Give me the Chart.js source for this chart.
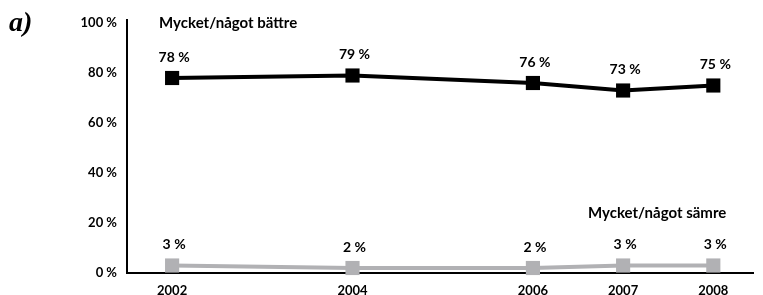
<!DOCTYPE html>
<html>
<head>
<meta charset="utf-8">
<script src="https://cdn.jsdelivr.net/npm/chart.js@4"></script>
<style>
  body { margin: 0; background: #fff; }
  #wrap { width: 763px; height: 295px; position: relative; }
</style>
</head>
<body>
<div id="wrap"><canvas id="chart"></canvas></div>
<script>
// Data
const years = [2002, 2004, 2006, 2007, 2008];
const betterValues = [78, 79, 76, 73, 75];
const worseValues = [3, 2, 2, 3, 3];
const yTicks = [0, 20, 40, 60, 80, 100];
const seriesNames = ["Mycket/något bättre", "Mycket/något sämre"];

const labelFont = "bold 14px Lato";
const gray = "#b1b1b4";

// value labels over each marker, series names and the "a)" tag
const annotations = {
  id: "annotations",
  afterDatasetsDraw(chart) {
    const ctx = chart.ctx;
    const x = chart.scales.x;
    const y = chart.scales.y;
    ctx.save();
    ctx.fillStyle = "#000";
    ctx.textAlign = "center";
    ctx.textBaseline = "middle";
    ctx.font = labelFont;
    chart.data.datasets.forEach((ds, i) => {
      chart.getDatasetMeta(i).data.forEach((pt, j) => {
        ctx.fillText(ds.data[j].y + " %", pt.x + 2, pt.y - 21);
      });
    });

    ctx.font = "bold 15px Lato";
    ctx.textAlign = "left";
    ctx.fillText(seriesNames[0], x.getPixelForValue(years[0]) - 13, y.getPixelForValue(100));
    ctx.textAlign = "right";
    ctx.fillText(seriesNames[1], x.getPixelForValue(years[years.length - 1]) + 13, y.getPixelForValue(24));

    ctx.font = "italic bold 28px 'Liberation Serif'";
    ctx.textAlign = "left";
    ctx.fillText("a)", 9, 24);
    ctx.restore();
  }
};

new Chart(document.getElementById("chart"), {
  type: "line",
  data: {
    datasets: [
      {
        label: seriesNames[0],
        data: years.map((yr, i) => ({ x: yr, y: betterValues[i] })),
        borderColor: "#000",
        backgroundColor: "#000",
        borderWidth: 4,
        pointStyle: "rect",
        pointRadius: 10,
        pointHoverRadius: 10,
        pointBorderWidth: 0,
        clip: false
      },
      {
        label: seriesNames[1],
        data: years.map((yr, i) => ({ x: yr, y: worseValues[i] })),
        borderColor: gray,
        backgroundColor: gray,
        borderWidth: 4,
        pointStyle: "rect",
        pointRadius: 10,
        pointHoverRadius: 10,
        pointBorderWidth: 0,
        clip: false
      }
    ]
  },
  options: {
    responsive: true,
    maintainAspectRatio: false,
    animation: false,
    layout: { padding: { top: 20, right: 0, bottom: 0, left: 0 } },
    plugins: {
      legend: { display: false },
      tooltip: { enabled: false }
    },
    scales: {
      x: {
        type: "linear",
        min: 2001.5,
        max: 2008.44,
        afterBuildTicks: (scale) => { scale.ticks = years.map((v) => ({ value: v })); },
        afterFit: (scale) => { scale.height = 22; },
        grid: { display: false, drawTicks: false },
        border: { display: true, color: "#000", width: 2 },
        ticks: {
          padding: 10,
          color: "#000",
          font: { family: "Lato", weight: "bold", size: 13 },
          callback: (v) => String(v)
        }
      },
      y: {
        min: 0,
        max: 101.2,
        afterBuildTicks: (scale) => { scale.ticks = yTicks.map((v) => ({ value: v })); },
        afterFit: (scale) => { scale.width = 127; },
        grid: { display: false, drawTicks: false },
        border: { display: true, color: "#000", width: 2 },
        ticks: {
          padding: 10,
          color: "#000",
          font: { family: "Lato", weight: "bold", size: 13 },
          callback: (v) => v + " %"
        }
      }
    }
  },
  plugins: [annotations]
});
</script>
</body>
</html>
